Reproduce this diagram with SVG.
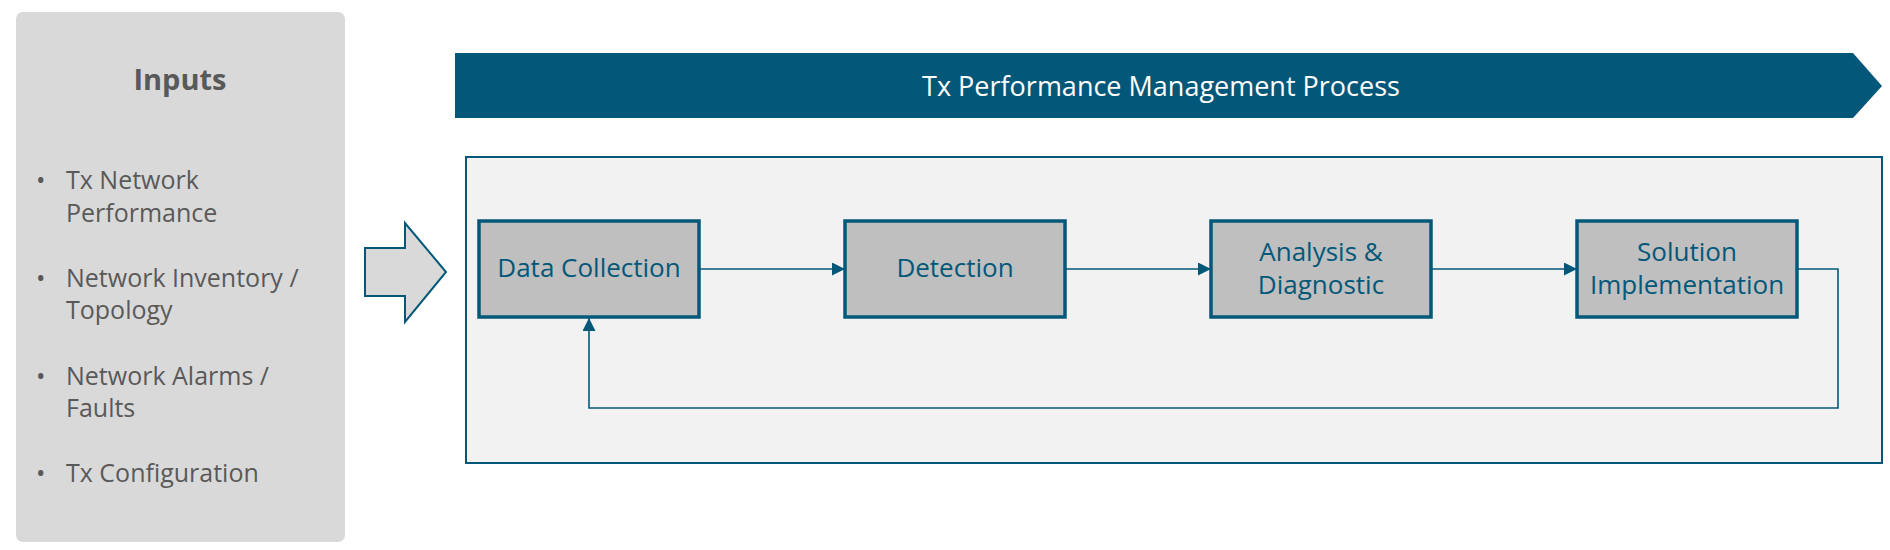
<svg xmlns="http://www.w3.org/2000/svg" width="1890" height="550" viewBox="0 0 1890 550">
<style>
.ntxt{font-family:"Open Sans","Liberation Sans",sans-serif;font-size:26px;fill:#03587a;text-anchor:middle}
.btxt{font-family:"Open Sans","Liberation Sans",sans-serif;font-size:25px;fill:#595959}
.node{fill:#bfbfbf;stroke:#03587a;stroke-width:3.5}
.conn{fill:none;stroke:#03587a;stroke-width:1.6}
</style>
<defs>
<marker id="ah" markerWidth="13" markerHeight="13" refX="13" refY="6.5" orient="auto" markerUnits="userSpaceOnUse">
<path d="M0,0 L13,6.5 L0,13 Z" fill="#03587a"/>
</marker>
</defs>
<rect width="1890" height="550" fill="#ffffff"/>
<g id="inputs">
<rect x="16" y="12" width="329" height="530" rx="7" fill="#d9d9d9"/>
<text x="180" y="90" font-family="'Open Sans','Liberation Sans',sans-serif" font-size="29" font-weight="bold" fill="#595959" text-anchor="middle">Inputs</text>
<g class="btxt">
<text x="36" y="189">•</text><text x="66" y="189">Tx Network</text><text x="66" y="222">Performance</text>
<text x="36" y="287">•</text><text x="66" y="287">Network Inventory /</text><text x="66" y="319">Topology</text>
<text x="36" y="385">•</text><text x="66" y="385">Network Alarms /</text><text x="66" y="417">Faults</text>
<text x="36" y="482">•</text><text x="66" y="482">Tx Configuration</text>
</g>
</g>
<g id="input-arrow">
<path d="M365,248 L405,248 L405,223 L446,272 L405,322 L405,296 L365,296 Z" fill="#d9d9d9" stroke="#03587a" stroke-width="2"/>
</g>
<g id="banner">
<path d="M455,53 L1853,53 L1882,86 L1853,118 L455,118 Z" fill="#03587a"/>
<text x="1161" y="96" font-family="'Open Sans','Liberation Sans',sans-serif" font-size="27" fill="#ffffff" text-anchor="middle">Tx Performance Management Process</text>
</g>
<g id="process-frame">
<rect x="466" y="157" width="1416" height="306" fill="#f2f2f2" stroke="#03587a" stroke-width="2"/>
</g>
<g id="connectors">
<line class="conn" x1="699" y1="269" x2="845" y2="269" marker-end="url(#ah)"/>
<line class="conn" x1="1065" y1="269" x2="1211" y2="269" marker-end="url(#ah)"/>
<line class="conn" x1="1431" y1="269" x2="1577" y2="269" marker-end="url(#ah)"/>
<polyline class="conn" points="1797,269 1838,269 1838,408 589,408 589,318" marker-end="url(#ah)"/>
</g>
<g id="node-data-collection">
<rect class="node" x="479" y="221" width="220" height="96"/>
<text class="ntxt" x="589" y="277">Data Collection</text>
</g>
<g id="node-detection">
<rect class="node" x="845" y="221" width="220" height="96"/>
<text class="ntxt" x="955" y="277">Detection</text>
</g>
<g id="node-analysis">
<rect class="node" x="1211" y="221" width="220" height="96"/>
<text class="ntxt" x="1321" y="261">Analysis &amp;</text>
<text class="ntxt" x="1321" y="294">Diagnostic</text>
</g>
<g id="node-solution">
<rect class="node" x="1577" y="221" width="220" height="96"/>
<text class="ntxt" x="1687" y="261">Solution</text>
<text class="ntxt" x="1687" y="294">Implementation</text>
</g>
</svg>
